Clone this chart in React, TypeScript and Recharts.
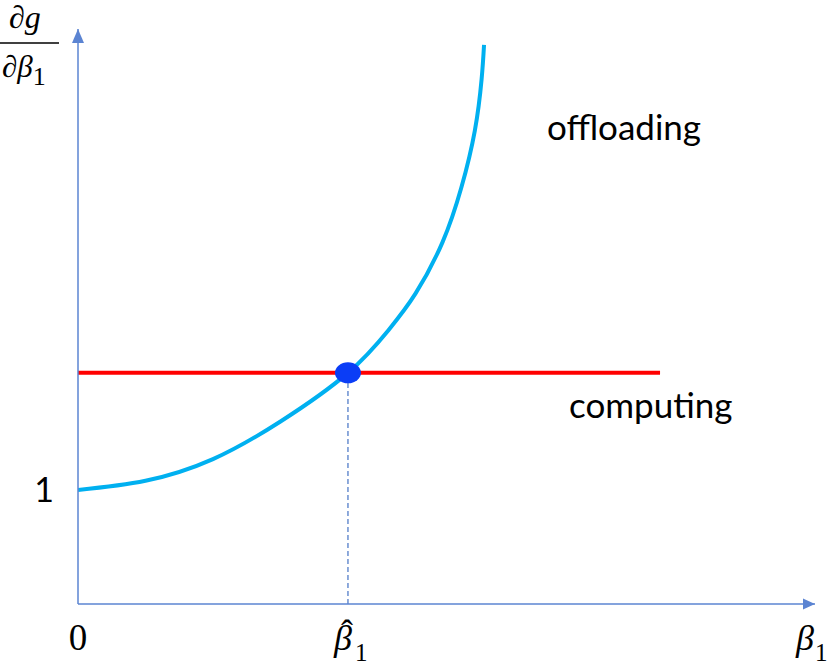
import React from 'react';
import {
  LineChart,
  Line,
  XAxis,
  YAxis,
  ReferenceLine,
  ReferenceDot,
  Customized,
} from 'recharts';

// schematic values (x in units of beta1-hat, y in units of the derivative)
const curveX = [0, 0.25, 0.5, 0.75, 1.0, 1.15, 1.25, 1.35, 1.42, 1.47, 1.495, 1.504];
const curveY = [1.0, 1.08, 1.27, 1.6, 2.026, 2.4, 2.72, 3.17, 3.65, 4.15, 4.6, 4.9];
const computingLevel = 2.026;
const computingEndX = 2.156;
const betaHat = 1;
const xMax = 2.73;
const yMax = 5.04;
const xTicks = [0, betaHat, xMax];
const yTicks = [1];

const curveData = curveX.map((x, i) => ({ x, y: curveY[i] }));
const computingData = [
  { x: 0, y: computingLevel },
  { x: computingEndX, y: computingLevel },
];

const AXIS = '#5B84D2';
const MATH_FONT = '"Liberation Serif", "DejaVu Serif", serif';
const TEXT_FONT = 'Lato, "Open Sans", sans-serif';

const XTick = (props: any) => {
  const { x, payload } = props;
  const v = payload.value;
  if (v === 0) {
    return (
      <text x={x} y={650} textAnchor="middle" fontFamily={MATH_FONT} fontSize={37} fill="#000">
        0
      </text>
    );
  }
  if (v === betaHat) {
    return (
      <text fontFamily={MATH_FONT} fill="#000">
        <tspan x={x - 14} y={650} fontStyle="italic" fontSize={36}>β</tspan>
        <tspan x={x - 1} y={645} fontSize={36} textAnchor="middle">ˆ</tspan>
        <tspan x={x + 7} y={661} fontSize={25}>1</tspan>
      </text>
    );
  }
  return (
    <text fontFamily={MATH_FONT} fill="#000">
      <tspan x={x - 19} y={650} fontStyle="italic" fontSize={36}>β</tspan>
      <tspan x={x} y={661} fontSize={25}>1</tspan>
    </text>
  );
};

const YTick = (props: any) => {
  const { y, payload } = props;
  return (
    <text x={44} y={y + 12} textAnchor="middle" fontFamily={TEXT_FONT} fontSize={34} fill="#000">
      {payload.value}
    </text>
  );
};

const RightArrow = (props: any) => {
  const { cx, cy } = props;
  return <path d={`M${cx},${cy} L${cx - 12},${cy - 5.5} L${cx - 12},${cy + 5.5} Z`} fill={AXIS} />;
};

const UpArrow = (props: any) => {
  const { cx, cy } = props;
  return <path d={`M${cx},${cy} L${cx - 6},${cy + 14} L${cx + 6},${cy + 14} Z`} fill={AXIS} />;
};

const Dot = (props: any) => {
  const { cx, cy } = props;
  return <ellipse cx={cx} cy={cy} rx={13} ry={10.5} fill="#0B3DF6" />;
};

const Labels = () => (
  <g>
    <text x={9} y={28} fontFamily={MATH_FONT} fontStyle="italic" fontSize={32} fill="#000">
      ∂g
    </text>
    <line x1={0} y1={43} x2={59} y2={43} stroke="#000" strokeWidth={1.5} />
    <text x={2} y={77} fontFamily={MATH_FONT} fill="#000">
      <tspan fontStyle="italic" fontSize={31}>∂β</tspan>
      <tspan fontSize={26} dy={8}>1</tspan>
    </text>
    <text x={547} y={140} fontFamily={TEXT_FONT} fontSize={35} fill="#000">
      offloading
    </text>
    <text x={569} y={418} fontFamily={TEXT_FONT} fontSize={35} fill="#000">
      computing
    </text>
  </g>
);

export default function App() {
  return (
    <div style={{ position: 'absolute', left: 0, top: 0, background: '#fff' }}>
      <LineChart width={830} height={663} margin={{ top: 29, right: 15, bottom: 0, left: 0 }}>
        <XAxis
          type="number"
          dataKey="x"
          domain={[0, xMax]}
          ticks={xTicks}
          interval={0}
          tick={<XTick />}
          tickLine={false}
          axisLine={{ stroke: AXIS, strokeWidth: 1.5 }}
          height={59}
          allowDataOverflow
        />
        <YAxis
          type="number"
          domain={[0, yMax]}
          ticks={yTicks}
          interval={0}
          tick={<YTick />}
          tickLine={false}
          axisLine={{ stroke: AXIS, strokeWidth: 1.5 }}
          width={78}
          allowDataOverflow
        />
        <ReferenceLine
          segment={[
            { x: betaHat, y: 0 },
            { x: betaHat, y: computingLevel },
          ]}
          stroke="#4472C4"
          strokeWidth={1.2}
          strokeDasharray="5 3"
        />
        <Line
          data={computingData}
          dataKey="y"
          type="linear"
          stroke="#FF0000"
          strokeWidth={4}
          dot={false}
          isAnimationActive={false}
        />
        <Line
          data={curveData}
          dataKey="y"
          type="natural"
          stroke="#00B0F0"
          strokeWidth={4}
          dot={false}
          isAnimationActive={false}
        />
        <ReferenceDot x={betaHat} y={computingLevel} shape={<Dot />} ifOverflow="visible" />
        <ReferenceDot x={xMax} y={0} shape={<RightArrow />} ifOverflow="visible" />
        <ReferenceDot x={0} y={yMax} shape={<UpArrow />} ifOverflow="visible" />
        <Customized component={<Labels />} />
      </LineChart>
    </div>
  );
}
